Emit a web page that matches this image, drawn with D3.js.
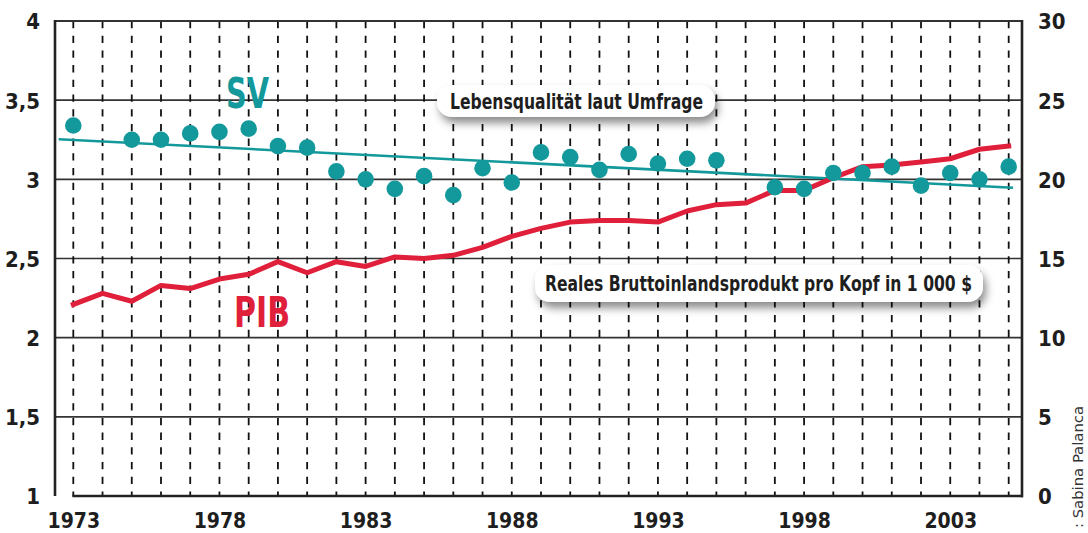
<!DOCTYPE html>
<html>
<head>
<meta charset="utf-8">
<script src="https://cdn.jsdelivr.net/npm/d3@7"></script>
<style>
  body { margin: 0; background: #fff; }
  svg { display: block; }
  text { font-family: "Liberation Sans Narrow", "DejaVu Sans Condensed", sans-serif; }
</style>
</head>
<body>
<div id="chart"></div>
<script>
// data
var years = [1973, 1974, 1975, 1976, 1977, 1978, 1979, 1980, 1981, 1982, 1983,
             1984, 1985, 1986, 1987, 1988, 1989, 1990, 1991, 1992, 1993, 1994,
             1995, 1996, 1997, 1998, 1999, 2000, 2001, 2002, 2003, 2004, 2005];
// Lebensqualitaet (left axis), null = no survey that year
var svValues = [3.34, null, 3.25, 3.25, 3.29, 3.30, 3.32, 3.21, 3.20, 3.05, 3.00,
                2.94, 3.02, 2.90, 3.07, 2.98, 3.17, 3.14, 3.06, 3.16, 3.10, 3.13,
                3.12, null, 2.95, 2.94, 3.04, 3.04, 3.08, 2.96, 3.04, 3.00, 3.08];
// BIP pro Kopf in 1000 $ (right axis)
var pibValues = [12.1, 12.8, 12.3, 13.3, 13.1, 13.7, 14.0, 14.8, 14.1, 14.8, 14.5,
                 15.1, 15.0, 15.2, 15.7, 16.4, 16.9, 17.3, 17.4, 17.4, 17.3, 18.0,
                 18.4, 18.5, 19.3, 19.3, 20.1, 20.8, 20.9, 21.1, 21.3, 21.9, 22.1];
// trend line of SV
var trendYears = [1972.5, 2005.15];
var trendValues = [3.253, 2.947];
var leftTicks = [1, 1.5, 2, 2.5, 3, 3.5, 4];
var rightTicks = [0, 5, 10, 15, 20, 25, 30];
var yearLabels = [1973, 1978, 1983, 1988, 1993, 1998, 2003];

var teal = "#13999b",
    red = "#e01f3b",
    ink = "#1e1e1e";

var width = 1088, height = 533;
var plot = {left: 55, right: 1022, top: 21, bottom: 496};

var x = d3.scaleLinear().domain([1973, 2005]).range([73.3, 1008.7]);
var yL = d3.scaleLinear().domain([1, 4]).range([plot.bottom, plot.top]);
var yR = d3.scaleLinear().domain([0, 30]).range([plot.bottom, plot.top]);

var svg = d3.select("#chart").append("svg")
    .attr("width", width)
    .attr("height", height);

var defs = svg.append("defs");
var shadow = defs.append("filter")
    .attr("id", "shadow")
    .attr("x", "-10%").attr("y", "-40%")
    .attr("width", "130%").attr("height", "200%");
shadow.append("feDropShadow")
    .attr("dx", 3).attr("dy", 6)
    .attr("stdDeviation", 4)
    .attr("flood-color", "#000")
    .attr("flood-opacity", 0.45);

// horizontal grid
svg.append("g").selectAll("line")
    .data(leftTicks.slice(1, -1))
    .enter().append("line")
    .attr("x1", plot.left).attr("x2", plot.right)
    .attr("y1", function (d) { return yL(d); })
    .attr("y2", function (d) { return yL(d); })
    .attr("stroke", "#333")
    .attr("stroke-width", 1.6);

// vertical dashed year lines
svg.append("g").selectAll("line")
    .data(years)
    .enter().append("line")
    .attr("x1", function (d) { return x(d); })
    .attr("x2", function (d) { return x(d); })
    .attr("y1", plot.top)
    .attr("y2", plot.bottom)
    .attr("stroke", "#111")
    .attr("stroke-width", 1.8)
    .attr("stroke-dasharray", "7.3 7.4");

// frame
svg.append("line")
    .attr("x1", plot.left).attr("x2", plot.right)
    .attr("y1", plot.top).attr("y2", plot.top)
    .attr("stroke", "#333").attr("stroke-width", 2.2);
svg.append("line")
    .attr("x1", plot.left).attr("x2", plot.left)
    .attr("y1", plot.top - 1).attr("y2", plot.bottom)
    .attr("stroke", "#222").attr("stroke-width", 2.6);
svg.append("line")
    .attr("x1", plot.right).attr("x2", plot.right)
    .attr("y1", plot.top - 1).attr("y2", plot.bottom + 1.3)
    .attr("stroke", "#222").attr("stroke-width", 2.6);
svg.append("line")
    .attr("x1", x(1973) - 1).attr("x2", plot.right + 1)
    .attr("y1", plot.bottom).attr("y2", plot.bottom)
    .attr("stroke", "#222").attr("stroke-width", 2.6);

// axes labels
var fmt = function (d) { return String(d).replace(".", ","); };
var axL = svg.append("g")
    .attr("transform", "translate(" + plot.left + ",0)")
    .call(d3.axisLeft(yL).tickValues(leftTicks).tickSize(0).tickPadding(15).tickFormat(fmt));
var axR = svg.append("g")
    .attr("transform", "translate(" + plot.right + ",0)")
    .call(d3.axisRight(yR).tickValues(rightTicks).tickSize(0).tickPadding(16));
var axB = svg.append("g")
    .attr("transform", "translate(0," + plot.bottom + ")")
    .call(d3.axisBottom(x).tickValues(yearLabels).tickSize(0).tickFormat(d3.format("d")));
[axL, axR, axB].forEach(function (a) {
    a.select(".domain").remove();
    a.selectAll("text")
        .style("font-family", "'Liberation Sans Narrow', 'DejaVu Sans Condensed', sans-serif")
        .style("font-weight", "bold")
        .attr("fill", ink);
});
axL.selectAll("text").style("font-size", "22px").attr("dy", "0.36em");
axR.selectAll("text").style("font-size", "22px").attr("dy", "0.36em");
axB.selectAll("text").style("font-size", "21px").attr("y", 32).attr("dy", 0);

// SV trend
svg.append("path")
    .datum(trendYears.map(function (d, i) { return [d, trendValues[i]]; }))
    .attr("d", d3.line()
        .x(function (d) { return x(d[0]); })
        .y(function (d) { return yL(d[1]); }))
    .attr("fill", "none")
    .attr("stroke", teal)
    .attr("stroke-width", 2.6);

// PIB line
svg.append("path")
    .datum(years.map(function (d, i) { return [d, pibValues[i]]; }))
    .attr("d", d3.line()
        .x(function (d) { return x(d[0]); })
        .y(function (d) { return yR(d[1]); }))
    .attr("fill", "none")
    .attr("stroke", red)
    .attr("stroke-width", 5)
    .attr("stroke-linejoin", "round")
    .attr("stroke-linecap", "square");

// SV dots
svg.append("g").selectAll("circle")
    .data(years.map(function (d, i) { return {year: d, v: svValues[i]}; })
        .filter(function (d) { return d.v !== null; }))
    .enter().append("circle")
    .attr("cx", function (d) { return x(d.year); })
    .attr("cy", function (d) { return yL(d.v); })
    .attr("r", 8.3)
    .attr("fill", teal);

// series labels
svg.append("text")
    .attr("x", 226).attr("y", 108)
    .attr("fill", teal)
    .style("font-size", "42px").style("font-weight", "bold")
    .attr("textLength", 43).attr("lengthAdjust", "spacingAndGlyphs")
    .text("SV");
svg.append("text")
    .attr("x", 234).attr("y", 327)
    .attr("fill", red)
    .style("font-size", "42px").style("font-weight", "bold")
    .attr("textLength", 56).attr("lengthAdjust", "spacingAndGlyphs")
    .text("PIB");

// callouts
function callout(x0, y0, w, h, tx, tw, label) {
    var g = svg.append("g");
    g.append("rect")
        .attr("x", x0).attr("y", y0)
        .attr("width", w).attr("height", h)
        .attr("rx", 15).attr("ry", 15)
        .attr("fill", "#fff")
        .attr("filter", "url(#shadow)");
    g.append("text")
        .attr("x", tx).attr("y", y0 + h / 2)
        .attr("dy", "0.36em")
        .attr("fill", ink)
        .style("font-size", "22px").style("font-weight", "bold")
        .attr("textLength", tw).attr("lengthAdjust", "spacingAndGlyphs")
        .text(label);
}
callout(437, 85, 278, 32, 450, 253, "Lebensqualität laut Umfrage");
callout(535, 265, 448, 37, 545, 427, "Reales Bruttoinlandsprodukt pro Kopf in 1 000 $");

// credit
svg.append("text")
    .attr("transform", "translate(1083,528) rotate(-90)")
    .attr("fill", "#333")
    .style("font-size", "14px")
    .attr("textLength", 122).attr("lengthAdjust", "spacingAndGlyphs")
    .text(": Sabina Palanca");
</script>
</body>
</html>
